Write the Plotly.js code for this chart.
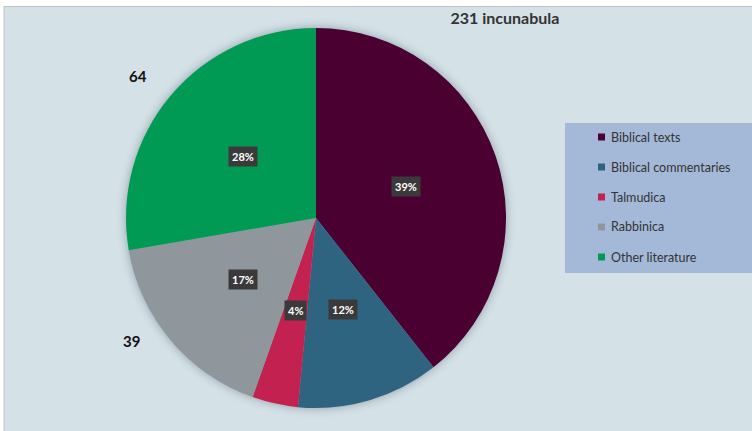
<!DOCTYPE html>
<html>
<head>
<meta charset="utf-8">
<script src="https://cdn.plot.ly/plotly-3.0.1.min.js"></script>
<style>
html,body{margin:0;padding:0;background:#fff;}
#chart{width:752px;height:431px;}
.pielayer{filter:drop-shadow(0px 0px 5px rgba(60,80,90,0.45));}
</style>
</head>
<body>
<div id="chart"></div>
<script>
const categories = ["Biblical texts", "Biblical commentaries", "Talmudica", "Rabbinica", "Other literature"];
const counts = [91, 28, 9, 39, 64];
const colors = ["#4b0032", "#2e6480", "#c3214f", "#8f979c", "#009a55"];
const titleText = "231 incunabula";
const outsideLabelCats = ["Other literature", "Rabbinica"];

const W = 752, H = 431;
const cx = 316, cy = 218, R = 190;
const total = counts.reduce((a, b) => a + b, 0);

const annotations = [];
// percentage labels at mid-angle of each slice
let cum = 0;
counts.forEach((v, i) => {
  const mid = (cum + v / 2) / total * 2 * Math.PI;
  cum += v;
  const r = 0.5 * R;
  const px = cx + r * Math.sin(mid);
  const py = cy - r * Math.cos(mid);
  annotations.push({
    x: px / W, y: 1 - py / H, xref: 'paper', yref: 'paper', xanchor: 'center', yanchor: 'middle',
    text: Math.round(v / total * 100) + '%',
    showarrow: false, bgcolor: '#3a3a3a', borderpad: 3,
    font: {family: 'Lato, sans-serif', size: 11, color: '#ffffff', weight: 'bold'}
  });
});
// outside count labels
const outsidePos = [[138, 76], [131, 341]];
outsideLabelCats.forEach((c, k) => {
  const i = categories.indexOf(c);
  annotations.push({
    x: outsidePos[k][0] / W, y: 1 - outsidePos[k][1] / H, xref: 'paper', yref: 'paper',
    xanchor: 'center', yanchor: 'middle',
    text: '<b>' + counts[i] + '</b>', showarrow: false,
    font: {family: 'Lato, sans-serif', size: 15, color: '#111111'}
  });
});

// manual legend
const shapes = [
  {type: 'rect', xref: 'paper', yref: 'paper', x0: 4 / W, x1: 1.01, y0: -0.01, y1: 1 - 6.5 / H,
   fillcolor: '#d4e1e7', line: {color: '#b8c4ca', width: 1}, layer: 'below'},
  {type: 'rect', xref: 'paper', yref: 'paper', x0: 565 / W, x1: 1.01, y0: 1 - 273 / H, y1: 1 - 123 / H,
   fillcolor: '#a4b9d7', line: {width: 0}, layer: 'below'}
];
categories.forEach((c, i) => {
  const yc = 137 + i * 30;
  shapes.push({type: 'rect', xref: 'paper', yref: 'paper',
    x0: 598 / W, x1: 605 / W, y0: 1 - (yc + 3.5) / H, y1: 1 - (yc - 3.5) / H,
    fillcolor: colors[i], line: {width: 0}});
  annotations.push({
    x: 608.5 / W, y: 1 - yc / H, xref: 'paper', yref: 'paper', xanchor: 'left', yanchor: 'middle',
    text: c, showarrow: false,
    font: {family: 'Lato, sans-serif', size: 12.5, color: '#333333'}
  });
});

const data = [{
  type: 'pie',
  labels: categories,
  values: counts,
  marker: {colors: colors, line: {width: 0}},
  sort: false,
  direction: 'clockwise',
  rotation: 0,
  textinfo: 'none',
  hoverinfo: 'label+value+percent',
  showlegend: false,
  domain: {x: [(cx - R) / W, (cx + R) / W], y: [1 - (cy + R) / H, 1 - (cy - R) / H]}
}];

const layout = {
  width: W, height: H,
  margin: {l: 0, r: 0, t: 0, b: 0},
  paper_bgcolor: '#ffffff',
  title: {text: '<b>' + titleText + '</b>', x: 505 / W, xanchor: 'center', y: 1 - 18 / H, yanchor: 'middle',
    font: {family: 'Lato, sans-serif', size: 16, color: '#333333'}},
  showlegend: false,
  shapes: shapes,
  annotations: annotations
};

Plotly.newPlot('chart', data, layout, {displayModeBar: false, staticPlot: true});
</script>
</body>
</html>
